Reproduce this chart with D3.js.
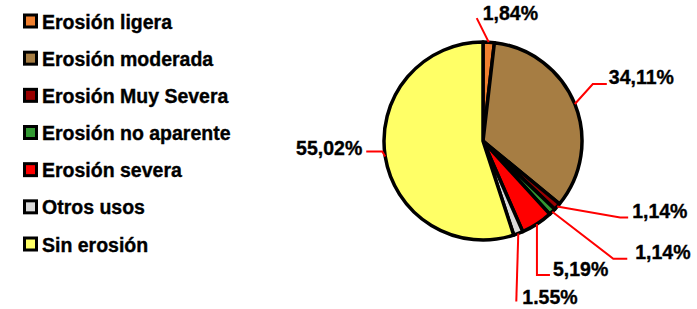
<!DOCTYPE html>
<html>
<head>
<meta charset="utf-8">
<script src="https://cdn.jsdelivr.net/npm/d3@7"></script>
<style>
  body { margin: 0; background: #fff; }
  svg { display: block; font-family: "Liberation Sans", Arial, sans-serif; font-weight: bold; }
  text { stroke: #000; stroke-width: 0.35px; }
</style>
</head>
<body>
<div id="vis"></div>
<script>
const categories = ["Erosión ligera", "Erosión moderada", "Erosión Muy Severa", "Erosión no aparente", "Erosión severa", "Otros usos", "Sin erosión"];
const values = [1.84, 34.11, 1.14, 1.14, 5.19, 1.55, 55.02];
const labelText = ["1,84%", "34,11%", "1,14%", "1,14%", "5,19%", "1.55%", "55,02%"];
const colors = ["#f0802f", "#a67d43", "#990000", "#339933", "#ff0000", "#dadada", "#ffff66"];

// leader line bends, relative to the point on the rim
const leaders = [
  [[0, 0], [-12, -24]],
  [[0, 0], [18, -20], [32, -20]],
  [[0, 0], [63, 11], [71, 11]],
  [[0, 0], [61, 47], [75, 47]],
  [[0, 0], [0, 51], [13, 51]],
  [[0, 0], [-2, 68]],
  [[0, 0], [-3, -5], [-19, -5]]
];
// label offset from the end of its leader
const labelOffset = [[6, 2], [2, 0], [4, 0], [8, 0], [3, 1], [6, 3], [-4, 3]];

const width = 697, height = 309;
const cx = 483, cy = 141, radius = 99;

const svg = d3.select("#vis")
    .append("svg")
    .attr("width", width)
    .attr("height", height);

const pie = d3.pie().sort(null).value((d) => d);
const arc = d3.arc().innerRadius(0).outerRadius(radius);
const rim = d3.arc().innerRadius(radius).outerRadius(radius);

const arcs = pie(values);

const g = svg.append("g")
    .attr("transform", "translate(" + cx + "," + cy + ")");

g.selectAll("path.slice")
    .data(arcs)
    .enter()
    .append("path")
    .attr("class", "slice")
    .attr("d", arc)
    .attr("fill", (d, i) => colors[i])
    .attr("stroke", "#000")
    .attr("stroke-width", 3.5)
    .attr("stroke-linejoin", "round");

const line = d3.line();

arcs.forEach((d, i) => {
  const p = rim.centroid(d);
  const pts = leaders[i].map((o) => [p[0] + o[0], p[1] + o[1]]);
  g.append("path")
      .attr("d", line(pts))
      .attr("fill", "none")
      .attr("stroke", "#ff0000")
      .attr("stroke-width", 2);
  const end = pts[pts.length - 1];
  g.append("text")
      .attr("x", end[0] + labelOffset[i][0])
      .attr("y", end[1] + labelOffset[i][1])
      .attr("text-anchor", labelOffset[i][0] < 0 ? "end" : "start")
      .style("font-size", "19.5px")
      .attr("fill", "#000")
      .text(labelText[i]);
});

// legend
const legendY = d3.scalePoint()
    .domain(categories)
    .range([21, 244]);

const legend = svg.selectAll(".legend")
    .data(categories)
    .enter()
    .append("g")
    .attr("class", "legend")
    .attr("transform", (d) => "translate(0," + legendY(d) + ")");

legend.append("rect")
    .attr("x", 24.5)
    .attr("y", -6)
    .attr("width", 12)
    .attr("height", 12)
    .attr("fill", (d, i) => colors[i])
    .attr("stroke", "#000")
    .attr("stroke-width", 3);

legend.append("text")
    .attr("x", 42)
    .attr("y", 7.5)
    .style("font-size", "19.5px")
    .attr("fill", "#000")
    .text((d) => d);
</script>
</body>
</html>
